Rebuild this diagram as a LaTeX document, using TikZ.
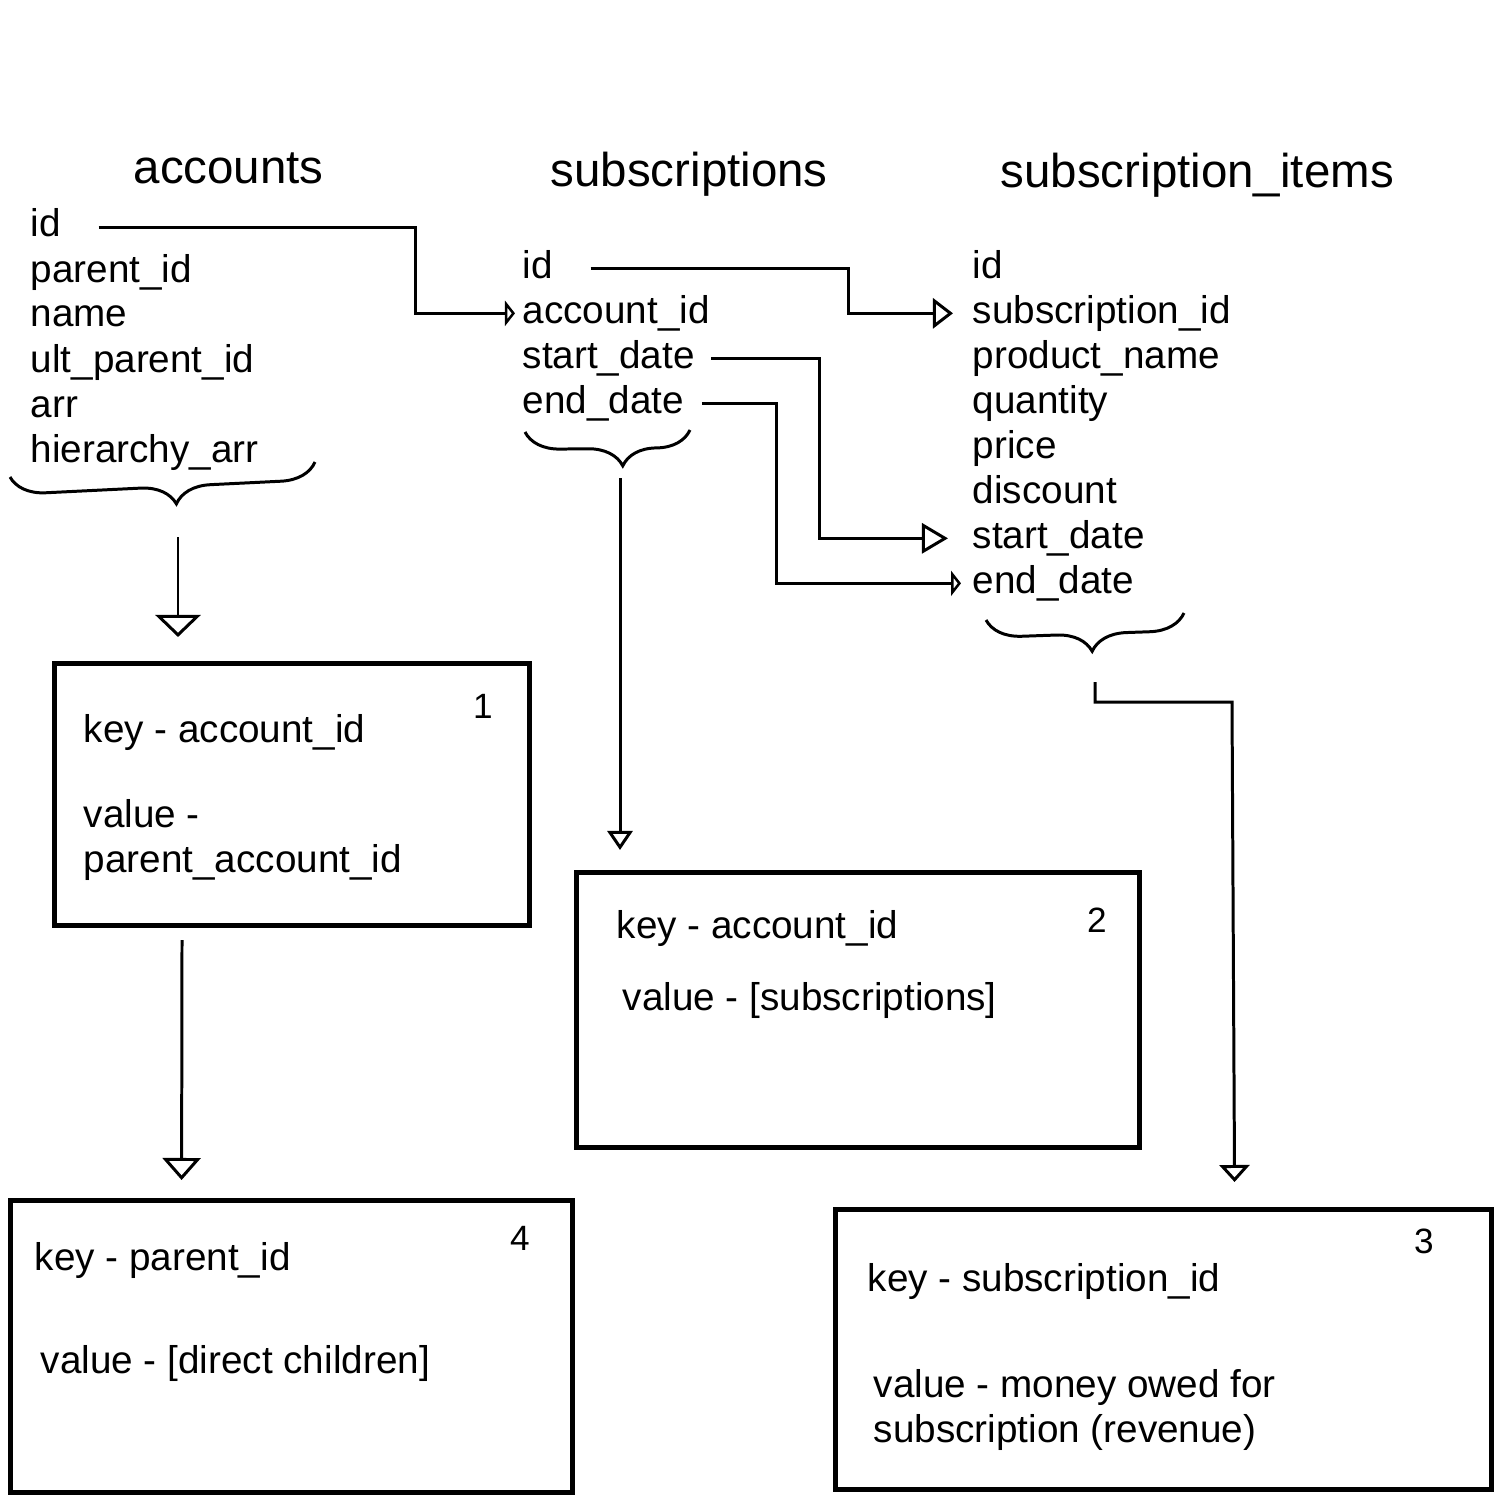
\documentclass[tikz,border=0pt]{standalone}
\usepackage{fontspec}
\setmainfont{Liberation Sans}
\usetikzlibrary{arrows.meta,decorations.pathreplacing}

\begin{document}
\begin{tikzpicture}[x=0.01cm, y=-0.01cm, >={Triangle[open,length=0.2cm,width=0.3cm]},
  field/.style={anchor=base west, inner sep=0pt, text height=0.75em, text depth=0.2em,
    font=\fontsize{11}{13}\selectfont},
  title/.style={anchor=base west, inner sep=0pt, font=\fontsize{13.5}{16}\selectfont},
  keybox/.style={draw, line width=1.4pt, anchor=north west, inner sep=0pt},
  boxnum/.style={inner sep=0pt, font=\fontsize{10}{12}\selectfont},
  link/.style={->, line width=0.85pt},
  curly/.style={decorate, line width=0.85pt,
    decoration={brace, mirror, amplitude=0.35cm, aspect=#1}}]
  \useasboundingbox (0,0) rectangle (1500,1500);

  % table titles
  \node[title] (acctitle) at (133,184) {accounts};
  \node[title] (subtitle) at (550,187) {subscriptions};
  \node[title] (itemtitle) at (1000,188) {subscription\_items};

  % table fields
  \foreach \nm/\txt [count=\i from 0] in {accid/id, accparent/parent\_id,
      accname/name, accult/ult\_parent\_id, accarr/arr, acchier/hierarchy\_arr}
    \node[field] (\nm) at (30,{237+45*\i}) {\txt};
  \foreach \nm/\txt [count=\i from 0] in {subid/id, subacc/account\_id,
      subsd/start\_date, subed/end\_date}
    \node[field] (\nm) at (522,{278+45*\i}) {\txt};
  \foreach \nm/\txt [count=\i from 0] in {itemid/id, itemsub/subscription\_id,
      itemprod/product\_name, itemqty/quantity, itemprice/price,
      itemdisc/discount, itemsd/start\_date, itemed/end\_date}
    \node[field] (\nm) at (972,{278+45*\i}) {\txt};

  % braces under the tables
  \draw[curly=0.54] (10,477) -- (315,462);
  \draw[curly=0.59] (525,432) -- (690,430);
  \draw[curly=0.53] (986,620) -- (1184,613);
  \coordinate (accbrace) at (178,537);
  \coordinate (subbrace) at (620,478);
  \coordinate (itembrace) at (1095,682);

  % key/value boxes
  \node[keybox, minimum width=4.75cm, minimum height=2.62cm] (box1) at (52,661) {};
  \node[keybox, minimum width=5.63cm, minimum height=2.75cm] (box2) at (574,870) {};
  \node[keybox, minimum width=6.56cm, minimum height=2.80cm] (box3) at (833,1207) {};
  \node[keybox, minimum width=5.62cm, minimum height=2.92cm] (box4) at (8,1198) {};

  \node[field] (k1) at (83,742) {key - account\_id};
  \node[field] (v1) at (83,827) {value -};
  \node[field] (v1b) at (83,872) {parent\_account\_id};
  \node[boxnum] (n1) at (483,706) {1};

  \node[field] (k2) at (616,938) {key - account\_id};
  \node[field] (v2) at (622,1010) {value - [subscriptions]};
  \node[boxnum] (n2) at (1097,920) {2};

  \node[field] (k3) at (867,1291) {key - subscription\_id};
  \node[field] (v3) at (873,1397) {value - money owed for};
  \node[field] (v3b) at (873,1442) {subscription (revenue)};
  \node[boxnum] (n3) at (1424,1241) {3};

  \node[field] (k4) at (34,1270) {key - parent\_id};
  \node[field] (v4) at (40,1373) {value - [direct children]};
  \node[boxnum] (n4) at (520,1238) {4};

  % field links
  \draw[link, >={Triangle[open,length=0.1cm,width=0.25cm]}]
    ([xshift=0.37cm]accid.east) -| (415,270) |- ([xshift=-0.07cm]subacc.west);
  \draw[link] ([xshift=0.37cm]subid.east) -| (848,295) |- ([xshift=-0.19cm]itemsub.west);
  \draw[link, >={Triangle[open,length=0.26cm,width=0.3cm]}]
    ([xshift=0.16cm]subsd.east) -| (819,450) |- ([xshift=-0.24cm]itemsd.west);
  \draw[link, >={Triangle[open,length=0.1cm,width=0.25cm]}]
    ([xshift=0.17cm]subed.east) -| (776,500) |- ([xshift=-0.11cm]itemed.west);

  % links to boxes
  \draw[link, shorten >=0.24cm, >={Triangle[open,length=0.22cm,width=0.45cm]}]
    (accbrace) -- (accbrace |- box1.north);
  \draw[link, shorten >=0.2cm, >={Triangle[open,length=0.19cm,width=0.25cm]}]
    (subbrace) -- (subbrace |- box2.north);
  \draw[link, shorten >=0.25cm, >={Triangle[open,length=0.17cm,width=0.3cm]}]
    (itembrace) |- (1232,702) -- ([xshift=0.71cm]box3.north);
  \draw[link, shorten <=0.12cm, shorten >=0.18cm, >={Triangle[open,length=0.22cm,width=0.38cm]}]
    ([xshift=-1.1cm]box1.south) -- ([xshift=-1.1cm]box4.north);
\end{tikzpicture}
\end{document}
